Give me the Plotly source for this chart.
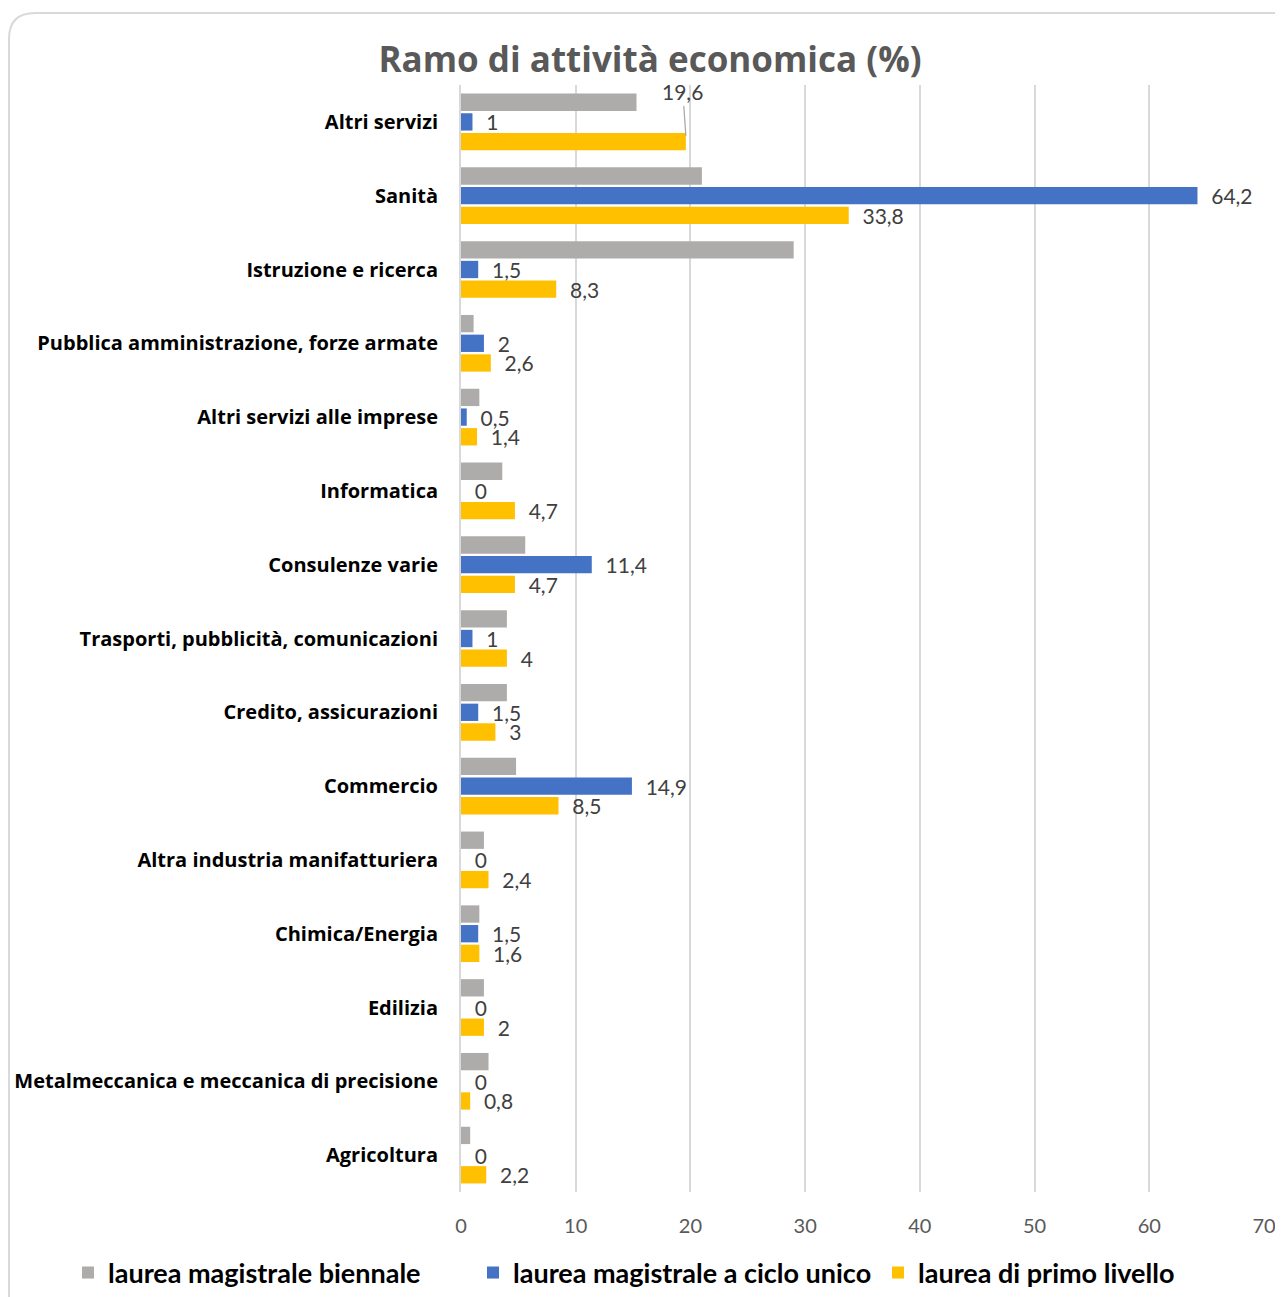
import plotly.graph_objects as go

categorie = [
    "Altri servizi",
    "Sanità",
    "Istruzione e ricerca",
    "Pubblica amministrazione, forze armate",
    "Altri servizi alle imprese",
    "Informatica",
    "Consulenze varie",
    "Trasporti, pubblicità, comunicazioni",
    "Credito, assicurazioni",
    "Commercio",
    "Altra industria manifatturiera",
    "Chimica/Energia",
    "Edilizia",
    "Metalmeccanica e meccanica di precisione",
    "Agricoltura",
]
magistrale_biennale = [15.3, 21.0, 29.0, 1.1, 1.6, 3.6, 5.6, 4.0, 4.0, 4.8, 2.0, 1.6, 2.0, 2.4, 0.8]
magistrale_ciclo_unico = [1, 64.2, 1.5, 2, 0.5, 0, 11.4, 1, 1.5, 14.9, 0, 1.5, 0, 0, 0]
primo_livello = [19.6, 33.8, 8.3, 2.6, 1.4, 4.7, 4.7, 4, 3, 8.5, 2.4, 1.6, 2, 0.8, 2.2]
x_ticks = [0, 10, 20, 30, 40, 50, 60, 70]

FONT_LABEL = "Open Sans"
FONT_TEXT = "Lato"
OFF = 8  # margine del body della pagina
W, H = 1283 - OFF, 1297 - OFF
L, R, T, B = 461 - OFF, 19, 85 - OFF, H - (1192 - OFF)


def fmt(v):
    return f"{v:g}".replace(".", ",")


def etichette(vals):
    return ["\u00a0\u00a0" + fmt(v) for v in vals]


# l'etichetta della prima barra gialla è spostata sopra con linea guida
testo_primo = etichette(primo_livello)
testo_primo[0] = ""

fig = go.Figure()
fig.add_trace(
    go.Bar(
        y=categorie,
        x=magistrale_biennale,
        orientation="h",
        name="laurea magistrale biennale",
        marker_color="#AEABAB",
    )
)
fig.add_trace(
    go.Bar(
        y=categorie,
        x=magistrale_ciclo_unico,
        orientation="h",
        name="laurea magistrale a ciclo unico",
        marker_color="#4472C4",
        text=etichette(magistrale_ciclo_unico),
        textposition="outside",
    )
)
fig.add_trace(
    go.Bar(
        y=categorie,
        x=primo_livello,
        orientation="h",
        name="laurea di primo livello",
        marker_color="#FFC000",
        text=testo_primo,
        textposition="outside",
    )
)
fig.update_traces(
    marker_line_width=0,
    cliponaxis=False,
    constraintext="none",
    textfont=dict(family=FONT_TEXT, size=21, color="#404040"),
)

fig.add_annotation(
    x=primo_livello[0],
    y=categorie[0],
    yshift=-14,
    text=fmt(primo_livello[0]),
    showarrow=True,
    arrowhead=0,
    arrowwidth=1.2,
    arrowcolor="#A6A6A6",
    ax=-3,
    ay=-44,
    font=dict(family=FONT_TEXT, size=21, color="#404040"),
)

# cornice arrotondata del grafico (coordinate in pixel convertite in paper)
pw, ph = W - L - R, H - T - B
def px(x):
    return (x - OFF - L) / pw
def py(y):
    return (H - B - (y - OFF)) / ph
rx, ry = 26 / pw, 26 / ph
x0, y0, x1, y1 = px(9), py(13), px(1320), py(1320)
path = f"M {x0},{y1} L {x0},{y0 - ry} Q {x0},{y0} {x0 + rx},{y0} L {x1},{y0}"

fig.update_layout(
    width=W,
    height=H,
    margin=dict(l=L, r=R, t=T, b=B, autoexpand=False),
    paper_bgcolor="white",
    plot_bgcolor="white",
    barmode="group",
    bargap=0.2,
    bargroupgap=0.12,
    title=dict(
        text="<b>Ramo di attività economica (%)</b>",
        font=dict(family=FONT_LABEL, size=35, color="#595959"),
        x=(650 - OFF) / W,
        xanchor="center",
        xref="container",
        y=1 - (60 - OFF) / H,
        yanchor="middle",
        yref="container",
    ),
    legend=dict(
        orientation="h",
        x=px(68),
        xanchor="left",
        y=py(1273),
        yanchor="middle",
        font=dict(family=FONT_TEXT, size=27, color="black", weight="bold"),
        entrywidth=360,
        traceorder="normal",
    ),
    shapes=[
        dict(
            type="path",
            path=path,
            xref="paper",
            yref="paper",
            line=dict(color="#D9D9D9", width=2),
            layer="below",
        )
    ],
    xaxis=dict(
        range=[0, 70],
        tickvals=x_ticks,
        showgrid=True,
        gridcolor="#D9D9D9",
        gridwidth=2,
        zeroline=False,
        showline=False,
        automargin=False,
        tickfont=dict(family=FONT_TEXT, size=20, color="#595959"),
        ticklabelstandoff=20,
    ),
    yaxis=dict(
        autorange="reversed",
        showline=True,
        linecolor="#D9D9D9",
        linewidth=2,
        automargin=False,
        tickfont=dict(family=FONT_LABEL, size=20, color="black", weight="bold"),
        ticklabelstandoff=17,
    ),
)

fig.write_html("out.html")
